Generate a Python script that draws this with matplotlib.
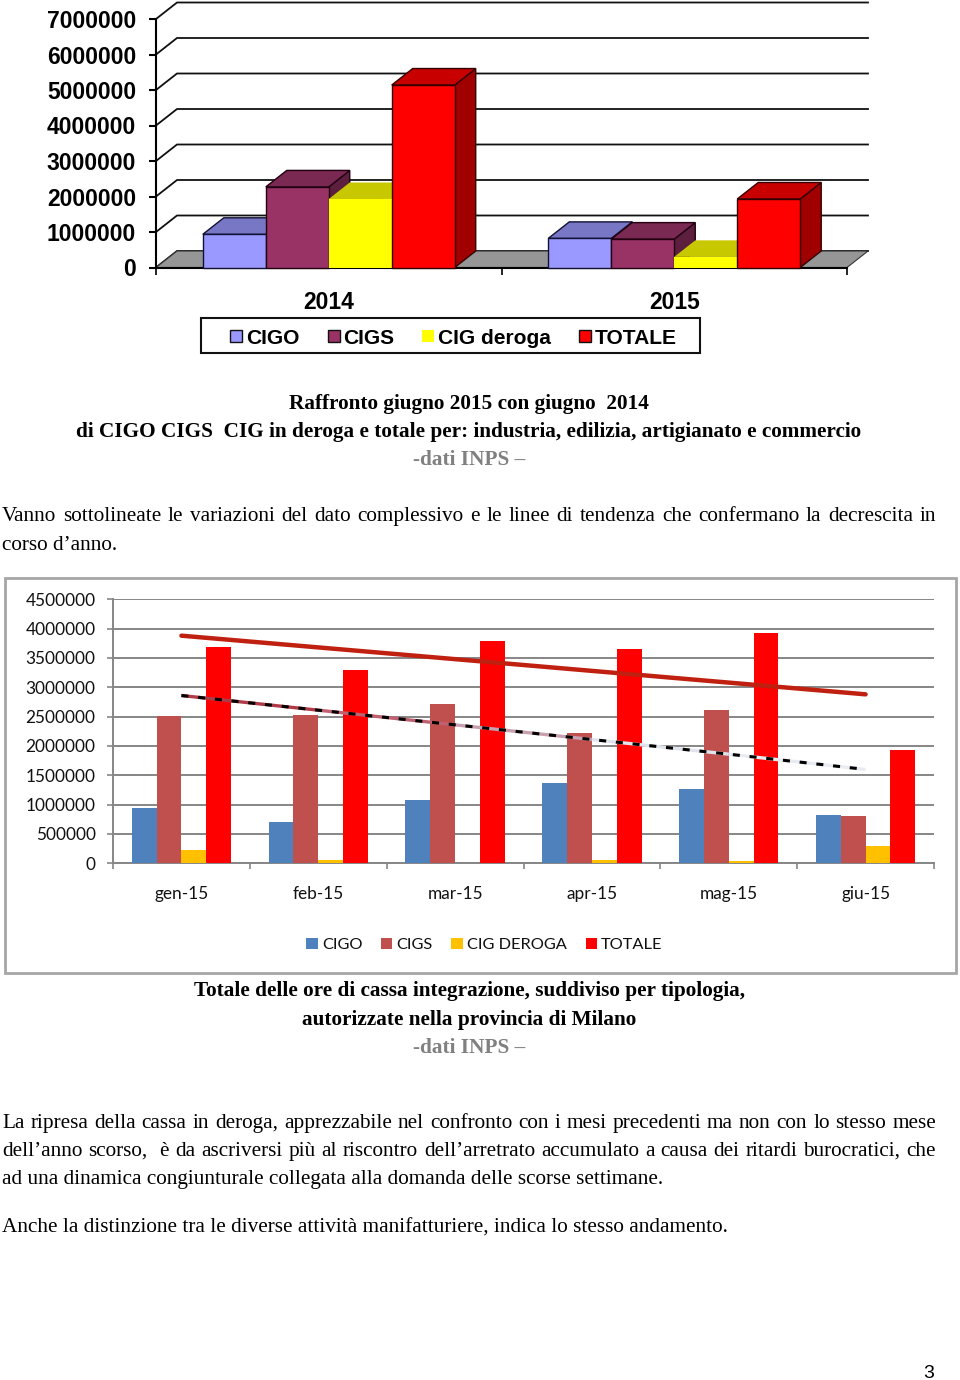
from matplotlib import pyplot as plt
from matplotlib.patches import Polygon, Rectangle
from matplotlib.collections import LineCollection
import numpy as np

W, H = 960, 1380
SERIF = 'Liberation Serif'

# first chart, june 2014 vs june 2015
years = ['2014', '2015']
cigo_y = [935000, 820000]
cigs_y = [2270000, 800000]
deroga_y = [1930000, 300000]
totale_y = [5140000, 1930000]
ticks_y = [0, 1000000, 2000000, 3000000, 4000000, 5000000, 6000000, 7000000]

# second chart, months of 2015
months = ['gen-15', 'feb-15', 'mar-15', 'apr-15', 'mag-15', 'giu-15']
cigo_m = [943000, 710000, 1074000, 1375000, 1267000, 824000]
cigs_m = [2517000, 2534000, 2720000, 2216000, 2608000, 800000]
deroga_m = [227000, 57000, 0, 57000, 45000, 300000]
totale_m = [3688000, 3290000, 3795000, 3648000, 3920000, 1930000]
trend_tot = [3880000, 3680000, 3480000, 3280000, 3080000, 2880000]
trend_cig = [2860000, 2610000, 2360000, 2110000, 1860000, 1600000]
ticks_m = [0, 500000, 1000000, 1500000, 2000000, 2500000, 3000000, 3500000, 4000000, 4500000]

names1 = ['CIGO', 'CIGS', 'CIG deroga', 'TOTALE']
names2 = ['CIGO', 'CIGS', 'CIG DEROGA', 'TOTALE']


def axes_px(fig, x0, y0, x1, y1):
    return fig.add_axes([x0 / W, 1 - y1 / H, (x1 - x0) / W, (y1 - y0) / H])


def txt(fig, x, y, s, size, **kw):
    kw.setdefault('family', SERIF)
    kw.setdefault('va', 'baseline')
    return fig.text(x / W, 1 - y / H, s, fontsize=size, **kw)


def justified(fig, y, s, size, x0=2, x1=936):
    # word spacing stretched like the justified lines of the page
    rend = fig.canvas.get_renderer()
    parts = [txt(fig, x0, y, w, size) for w in s.split(' ')]
    widths = [p.get_window_extent(rend).width for p in parts]
    gap = (x1 - x0 - sum(widths)) / (len(parts) - 1)
    x = x0
    for p, w in zip(parts, widths):
        p.set_x(x / W)
        x += w + gap


def swatch(fig, x0, y0, x1, y1, col, edge='none'):
    fig.add_artist(Rectangle((x0 / W, 1 - y1 / H), (x1 - x0) / W, (y1 - y0) / H,
                             transform=fig.transFigure, fc=col, ec=edge, lw=1))


fig = plt.figure(figsize=(9.6, 13.8), dpi=100)

# ---- 3D looking chart
ax = axes_px(fig, 156, 19, 847, 267.5)
ax.set_xlim(0, 2)
ax.set_ylim(0, 7000000)
ax.patch.set_visible(False)
dx = 21 / 345.5
dy = 16.5 / 35.5 * 1000000

for t in ticks_y:
    ax.plot([0, dx, 2 + dx], [t, t + dy, t + dy], color='#111111', lw=1.3, clip_on=False, zorder=1)
ax.add_patch(Polygon([(0, 0), (2, 0), (2 + dx, dy), (dx, dy)], fc='#969696', ec='#333333', lw=0.8,
                     clip_on=False, zorder=1.5))

w1 = 0.1823
front = ['#9999FF', '#993366', '#FFFF00', '#FF0000']
top = ['#7777C6', '#7A2952', '#C8C800', '#C80000']
side = ['#5B5B99', '#5C1F3D', '#A0A000', '#A00000']
edges = ['#111133', '#220011', 'none', '#330000']
z = 3
for g in range(len(years)):
    vals = [cigo_y[g], cigs_y[g], deroga_y[g], totale_y[g]]
    for i, v in enumerate(vals):
        x = g + 0.5 + (i - 2) * w1
        ax.add_patch(Polygon([(x + w1, 0), (x + w1 + dx, dy), (x + w1 + dx, v + dy), (x + w1, v)],
                             fc=side[i], ec=edges[i], lw=1, clip_on=False, zorder=z))
        ax.add_patch(Polygon([(x, v), (x + dx, v + dy), (x + w1 + dx, v + dy), (x + w1, v)],
                             fc=top[i], ec=edges[i], lw=1, clip_on=False, zorder=z + 0.1))
        ax.add_patch(Rectangle((x, 0), w1, v, fc=front[i], ec=edges[i], lw=1, clip_on=False, zorder=z + 0.2))
        z += 1

for s in ['top', 'right']:
    ax.spines[s].set_visible(False)
for s in ['left', 'bottom']:
    ax.spines[s].set_linewidth(1.5)
    ax.spines[s].set_zorder(2)
ax.set_yticks(ticks_y)
ax.set_yticklabels([str(t) for t in ticks_y], family='Liberation Sans', fontweight='bold', fontsize=16.5)
ax.tick_params(axis='y', length=5, width=1.5, pad=9.4)
ax.set_xticks([0, 1, 2])
ax.set_xticklabels([])
ax.set_xticks([0.5, 1.5], minor=True)
ax.set_xticklabels(years, minor=True, family='Liberation Sans', fontweight='bold', fontsize=16.5)
ax.tick_params(axis='x', which='major', length=5, width=1.2)
ax.tick_params(axis='x', which='minor', length=0, pad=16.7)

fig.add_artist(Rectangle((201 / W, 1 - 353 / H), 499 / W, 35 / H, transform=fig.transFigure,
                         fc='white', ec='#111111', lw=1.5))
sw1 = [230, 327.5, 422, 579]
tx1 = [246, 343, 438, 595]
for i, n in enumerate(names1):
    swatch(fig, sw1[i], 330, sw1[i] + 12, 342, front[i], edge='none' if i == 2 else '#111111')
    txt(fig, tx1[i], 343.5, n, 15.1, family='Liberation Sans', fontweight='bold')

# ---- captions and running text
sz = 15.34
plain = 15.3
txt(fig, 469, 409, 'Raffronto giugno 2015 con giugno  2014', sz, fontweight='bold', ha='center')
txt(fig, 469, 437, 'di CIGO CIGS  CIG in deroga e totale per: industria, edilizia, artigianato e commercio', sz,
    fontweight='bold', ha='center')
txt(fig, 469, 465, '-dati INPS \u2013', sz, fontweight='bold', ha='center', color='#808080')
justified(fig, 521, 'Vanno sottolineate le variazioni del dato complessivo e le linee di tendenza che confermano la decrescita in', plain)
txt(fig, 2, 550, 'corso d\u2019anno.', plain)

# ---- monthly chart
fig.add_artist(Rectangle((5 / W, 1 - 973 / H), 951 / W, 395 / H, transform=fig.transFigure,
                         fc='white', ec='#A6A6A6', lw=2, zorder=-1))
ax2 = axes_px(fig, 113, 599.3, 934, 863.3)
ax2.set_xlim(0, 6)
ax2.set_ylim(0, 4500000)
ax2.patch.set_visible(False)
ax2.set_axisbelow(True)
ax2.yaxis.grid(True, color='#868686', lw=1.4)

w2 = 0.1813
cols = ['#4F81BD', '#C0504D', '#FFC000', '#FF0000']
pos = np.arange(len(months)) + 0.5
for i, vals in enumerate([cigo_m, cigs_m, deroga_m, totale_m]):
    ax2.bar(pos + (i - 1.5) * w2, vals, width=w2, color=cols[i], zorder=3)

ax2.plot(pos, trend_tot, color='#C0200F', lw=3.2, solid_capstyle='round', zorder=5)
# the CIG trend is several lines on top of each other: reddish at the start, pale at the end
under = ['#B03A48', '#C06070', '#C8A0B0', '#E0E4EC', '#E8ECF2']
segs = [[(pos[k], trend_cig[k]), (pos[k + 1], trend_cig[k + 1])] for k in range(len(pos) - 1)]
ax2.add_collection(LineCollection(segs, colors=under, linewidths=2.4, zorder=5))
ax2.plot(pos, trend_cig, color='black', lw=2.2, dashes=(2.3, 3.2), zorder=6)

for s in ['top', 'right']:
    ax2.spines[s].set_visible(False)
for s in ['left', 'bottom']:
    ax2.spines[s].set_color('#868686')
    ax2.spines[s].set_linewidth(1.4)
ax2.set_yticks(ticks_m)
ax2.set_yticklabels([str(t) for t in ticks_m], family='Lato', fontsize=12.4, color='#111111')
ax2.tick_params(axis='y', length=4.5, width=1.2, color='#868686', pad=8)
ax2.set_xticks(np.arange(len(months) + 1))
ax2.set_xticklabels([])
ax2.set_xticks(pos, minor=True)
ax2.set_xticklabels(months, minor=True, family='Lato', fontsize=12.4, color='#111111')
ax2.tick_params(axis='x', which='major', length=4.5, width=1.2, color='#868686')
ax2.tick_params(axis='x', which='minor', length=0, pad=16)

sw2 = [306, 380.5, 451, 585.5]
tx2 = [322, 396, 467, 601]
for i, n in enumerate(names2):
    swatch(fig, sw2[i], 938, sw2[i] + 11.5, 949, cols[i])
    txt(fig, tx2[i], 949, n, 11.8, family='Lato', color='#111111')

txt(fig, 469, 996, 'Totale delle ore di cassa integrazione, suddiviso per tipologia,', sz, fontweight='bold', ha='center')
txt(fig, 469, 1025, 'autorizzate nella provincia di Milano', sz, fontweight='bold', ha='center')
txt(fig, 469, 1053, '-dati INPS \u2013', sz, fontweight='bold', ha='center', color='#808080')

justified(fig, 1128, 'La ripresa della cassa in deroga, apprezzabile nel confronto con i mesi precedenti ma non con lo stesso mese', plain)
justified(fig, 1156, 'dell\u2019anno scorso,  \u00e8 da ascriversi pi\u00f9 al riscontro dell\u2019arretrato accumulato a causa dei ritardi burocratici, che', plain)
txt(fig, 2, 1184, 'ad una dinamica congiunturale collegata alla domanda delle scorse settimane.', plain)
txt(fig, 2, 1233, 'Anche la distinzione tra le diverse attivit\u00e0 manifatturiere, indica lo stesso andamento.', plain)
txt(fig, 923, 1378, '3', 14, family='Liberation Sans')

plt.savefig('out.png', dpi=100)
